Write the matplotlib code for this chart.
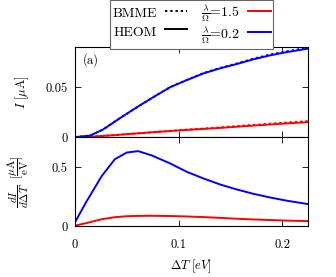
import numpy as np
import matplotlib
matplotlib.use("Agg")
from matplotlib import pyplot as plt
from matplotlib.lines import Line2D

plt.rcParams["font.family"] = "cmr10"
plt.rcParams["mathtext.fontset"] = "cm"
plt.rcParams["axes.formatter.use_mathtext"] = True
plt.rcParams["font.size"] = 9

# current I [uA] vs Delta T [eV]
x_top = [0.0, 0.0145, 0.027, 0.0435, 0.06, 0.0757, 0.092, 0.108, 0.124,
         0.140, 0.156, 0.172, 0.188, 0.2045, 0.225]
i_blue_heom = [0.0, 0.0015, 0.0075, 0.0190, 0.030, 0.040, 0.050, 0.057, 0.0637,
               0.0687, 0.073, 0.0777, 0.0817, 0.085, 0.0885]
i_blue_bmme = [0.0, 0.0015, 0.0075, 0.0190, 0.030, 0.040, 0.050, 0.0572, 0.064,
               0.0692, 0.0736, 0.0784, 0.0825, 0.0858, 0.0895]
i_red_heom = [0.0, 0.0004, 0.0012, 0.0024, 0.0037, 0.0049, 0.0061, 0.0072, 0.0082,
              0.0092, 0.0104, 0.0115, 0.0126, 0.0137, 0.0150]
i_red_bmme = [0.0, 0.0004, 0.0012, 0.0024, 0.0037, 0.0050, 0.0063, 0.0075, 0.0086,
              0.0097, 0.0110, 0.0122, 0.0134, 0.0146, 0.0160]

# differential dI/dDeltaT [uA/eV]
x_bot = [0.0, 0.011, 0.026, 0.0386, 0.050, 0.061, 0.074, 0.092, 0.108, 0.124,
         0.140, 0.156, 0.172, 0.188, 0.2045, 0.225]
g_blue = [0.031, 0.206, 0.426, 0.568, 0.624, 0.636, 0.60, 0.531, 0.46, 0.404,
          0.353, 0.311, 0.274, 0.243, 0.215, 0.186]
g_red = [0.003, 0.025, 0.058, 0.075, 0.083, 0.086, 0.087, 0.085, 0.081, 0.076,
         0.069, 0.062, 0.056, 0.051, 0.046, 0.042]

fig = plt.figure(figsize=(3.36, 2.77), dpi=100)
ax1 = fig.add_axes([0.223, 0.505, 0.694, 0.325])
ax2 = fig.add_axes([0.223, 0.184, 0.694, 0.321])

lw = 1.4
ax1.plot(x_top, i_red_heom, color="red", lw=lw)
ax1.plot(x_top, i_red_bmme, color="red", lw=lw, ls=(0, (1.2, 1.5)))
ax1.plot(x_top, i_blue_heom, color="blue", lw=lw)
ax1.plot(x_top, i_blue_bmme, color="blue", lw=lw, ls=(0, (1.2, 1.5)))
ax2.plot(x_bot, g_red, color="red", lw=lw)
ax2.plot(x_bot, g_blue, color="blue", lw=lw)

for ax in (ax1, ax2):
    ax.set_xlim(0, 0.225)
    ax.set_xticks([0, 0.1, 0.2])
    ax.tick_params(direction="in", top=True, right=True, length=4, width=0.6)
    ax.tick_params(axis="y", pad=5)
    ax.tick_params(axis="x", pad=9)
    for s in ax.spines.values():
        s.set_linewidth(0.8)

ax1.set_ylim(0, 0.09)
ax1.set_yticks([0, 0.05])
ax1.set_yticklabels(["0", "0.05"])
ax1.set_xticklabels([])
ax1.set_ylabel(r"$I\ [\mu\mathrm{A}]$")
ax1.text(0.035, 0.93, "(a)", transform=ax1.transAxes, va="top", ha="left")

ax2.set_ylim(0, 0.755)
ax2.set_yticks([0, 0.5])
ax2.set_yticklabels(["0", "0.5"])
ax2.set_xticklabels(["0", "0.1", "0.2"])
ax2.set_ylabel(r"$\dfrac{dI}{d\Delta T}\ \ [\dfrac{\mu\mathrm{A}}{\mathrm{eV}}]$", fontsize=8)
ax2.set_xlabel(r"$\Delta T\ [eV]$", labelpad=5)
ax1.yaxis.set_label_coords(-0.19, 0.5)
ax2.yaxis.set_label_coords(-0.19, 0.5)

handles = [Line2D([], [], color="black", lw=lw, ls=(0, (1.2, 1.5))),
           Line2D([], [], color="black", lw=lw),
           Line2D([], [], color="red", lw=lw),
           Line2D([], [], color="blue", lw=lw)]
labels = ["BMME", "HEOM", r"$\frac{\lambda}{\Omega}$=1.5", r"$\frac{\lambda}{\Omega}$=0.2"]
leg = fig.legend(handles, labels, ncol=2, markerfirst=False, loc="center",
                 bbox_to_anchor=(0.57, 0.912), fancybox=False, framealpha=1,
                 edgecolor="0.4", borderpad=0.2, labelspacing=0.0,
                 handlelength=1.6, handleheight=1.7, handletextpad=0.6,
                 columnspacing=1.0, fontsize=10)
leg.get_frame().set_linewidth(0.8)

fig.savefig("out.png", dpi=100)
